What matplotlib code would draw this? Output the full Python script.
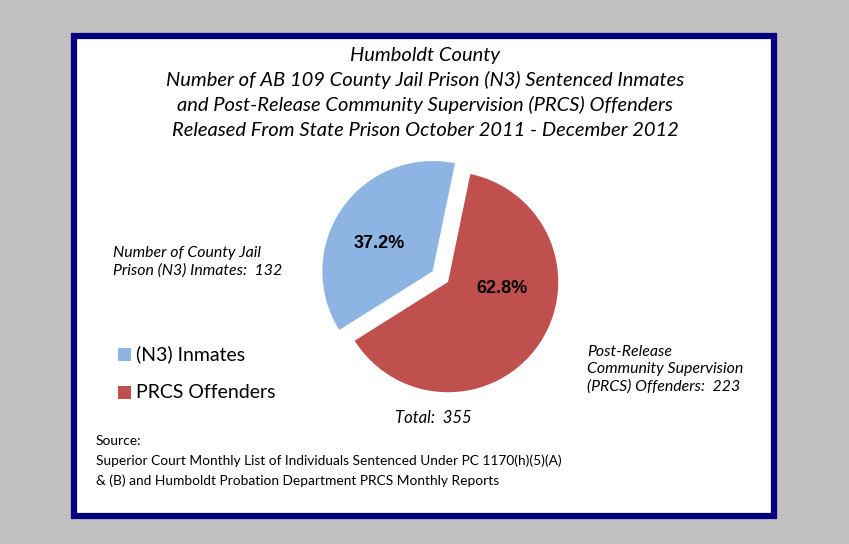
import matplotlib
matplotlib.use("agg")
import matplotlib.pyplot as plt
from matplotlib.patches import Rectangle

# data
categories = ["(N3) Inmates", "PRCS Offenders"]
counts = [132, 223]
colors = ["#8EB4E3", "#C0504D"]
side_labels = ["Number of County Jail\nPrison (N3) Inmates:  132",
               "Post-Release\nCommunity Supervision\n(PRCS) Offenders:  223"]
title_lines = ["Humboldt County",
               "Number of AB 109 County Jail Prison (N3) Sentenced Inmates",
               "and Post-Release Community Supervision (PRCS) Offenders",
               "Released From State Prison October 2011 - December 2012"]
source_text = ("Source:\n"
               "Superior Court Monthly List of Individuals Sentenced Under PC 1170(h)(5)(A)\n"
               "& (B) and Humboldt Probation Department PRCS Monthly Reports")

W, H = 849, 544
fig = plt.figure(figsize=(W / 100, H / 100), dpi=100)
fig.patch.set_facecolor("#C0C0C0")


def fx(px):
    return px / W


def fy(py):
    return 1 - py / H


# white panel with navy border
panel = Rectangle((fx(74), fy(516)), fx(774) - fx(74), fy(36) - fy(516),
                  transform=fig.transFigure, facecolor="white",
                  edgecolor="#000080", linewidth=4.5, zorder=-5)
fig.patches.append(panel)

# pie
cx, cy, R = 448, 282, 106
span = 1.3
ax = fig.add_axes([fx(cx - span * R), fy(cy + span * R), 2 * span * R / W, 2 * span * R / H])
ax.set_zorder(2)
ax.set_xlim(-span, span)
ax.set_ylim(-span, span)
ax.set_aspect("equal")
ax.axis("off")
wedges, _ = ax.pie(counts, colors=colors, startangle=78.3, counterclock=True,
                   explode=[0.17, 0], radius=1, wedgeprops=dict(linewidth=0))
total = sum(counts)
pct_pos = [(-0.62, 0.35), (0.49, -0.055)]
for (px, py), c in zip(pct_pos, counts):
    ax.text(px, py, f"{100 * c / total:.1f}%", ha="center", va="center",
            fontsize=13, fontweight="bold", family="Liberation Sans")

title_font = dict(family="Lato", style="italic", fontsize=14.5, ha="center", va="center")
for i, line in enumerate(title_lines):
    fig.text(fx(425), fy(55 + i * 25), line, **title_font)

side_font = dict(family="Lato", style="italic", fontsize=11.4, va="top", ha="left",
                 linespacing=1.3)
fig.text(fx(113), fy(246), side_labels[0], **side_font)
fig.text(fx(587), fy(345), side_labels[1], **side_font)
fig.text(fx(433), fy(418), f"Total:  {total}", family="Lato", style="italic",
         fontsize=12, ha="center", va="center")

# legend
for i, (name, col) in enumerate(zip(categories, colors)):
    y = 354 + i * 38
    fig.patches.append(Rectangle((fx(118), fy(y + 6.5)), fx(131) - fx(118), fy(y - 6.5) - fy(y + 6.5),
                                 transform=fig.transFigure, facecolor=col, edgecolor="none"))
    fig.text(fx(136), fy(y), name, family="Lato", fontsize=14, ha="left", va="center")

fig.text(fx(96), fy(435), source_text, family="Lato", fontsize=9.95, ha="left", va="top",
         linespacing=1.7)

plt.savefig("out.png", dpi=100, facecolor=fig.get_facecolor())
